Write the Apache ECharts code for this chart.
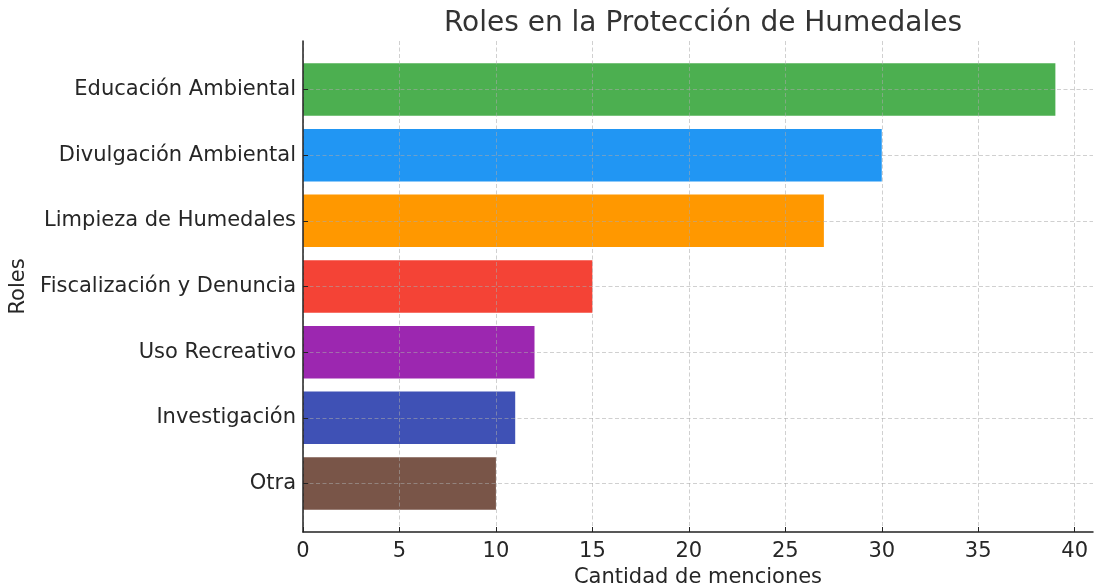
<!DOCTYPE html>
<html>
<head>
<meta charset="utf-8">
<script src="https://cdn.jsdelivr.net/npm/echarts@6/dist/echarts.min.js"></script>
<style>html,body{margin:0;padding:0;background:#fff}#c{width:1094px;height:585px}</style>
</head>
<body>
<div id="c"></div>
<script>
const categories = ["Educación Ambiental","Divulgación Ambiental","Limpieza de Humedales","Fiscalización y Denuncia","Uso Recreativo","Investigación","Otra"];
const values = [39, 30, 27, 15, 12, 11, 10];
const xTicks = [0, 5, 10, 15, 20, 25, 30, 35, 40];
const yTicks = [0, 1, 2, 3, 4, 5, 6];
const barColors = ["#4CAF50","#2196F3","#FF9800","#F44336","#9C27B0","#3F51B5","#795548"];

const FONT = "DejaVu Sans";
const TXT = "#262626";
const chart = echarts.init(document.getElementById('c'), null, {renderer:'canvas'});
const gridLine = {show:true, lineStyle:{color:'rgba(170,170,170,0.55)', width:1, type:[4,2.5]}};
chart.setOption({
  animation:false,
  backgroundColor:'#ffffff',
  title:{text:'Roles en la Protección de Humedales', left:698, top:5, textAlign:'center',
    textStyle:{fontFamily:FONT, fontSize:28, fontWeight:'normal', color:'#333333'}},
  grid:{left:303, top:41, right:1, bottom:53, containLabel:false, outerBoundsMode:'none'},
  xAxis:{type:'value', min:0, max:40.95, z:10,
    name:'Cantidad de menciones', nameLocation:'middle', nameGap:33,
    nameTextStyle:{fontFamily:FONT, fontSize:21, color:TXT},
    axisLine:{show:true, onZero:false, lineStyle:{color:'#222', width:1.5}},
    axisTick:{show:true, inside:true, length:5, customValues:xTicks, lineStyle:{color:'#222'}},
    axisLabel:{customValues:xTicks, fontFamily:FONT, fontSize:21, color:TXT, margin:9},
    splitLine:gridLine},
  yAxis:{type:'value', min:-0.74, max:6.74, inverse:true, z:10,
    name:'Roles', nameLocation:'middle', nameGap:267, nameRotate:90,
    nameTextStyle:{fontFamily:FONT, fontSize:21, color:TXT},
    axisLine:{show:true, onZero:false, lineStyle:{color:'#222', width:1.5}},
    axisTick:{show:true, inside:true, length:5, customValues:yTicks, lineStyle:{color:'#222'}},
    axisLabel:{customValues:yTicks, fontFamily:FONT, fontSize:21, color:TXT, margin:7,
      padding:[4,0,0,0], formatter:(v)=>categories[Math.round(v)]},
    splitLine:gridLine},
  series:[{
    type:'custom',
    encode:{x:0, y:1},
    data: values.map((v,i)=>[v,i]),
    renderItem:function(params, api){
      const v = api.value(0), i = api.value(1);
      const p0 = api.coord([0, i]);
      const p1 = api.coord([v, i]);
      const h = Math.abs(api.size([0, 0.8])[1]);
      return {type:'rect', shape:{x:p0[0], y:p0[1]-h/2, width:p1[0]-p0[0], height:h},
        style:{fill:barColors[i]}};
    }
  }]
});
</script>
</body>
</html>
